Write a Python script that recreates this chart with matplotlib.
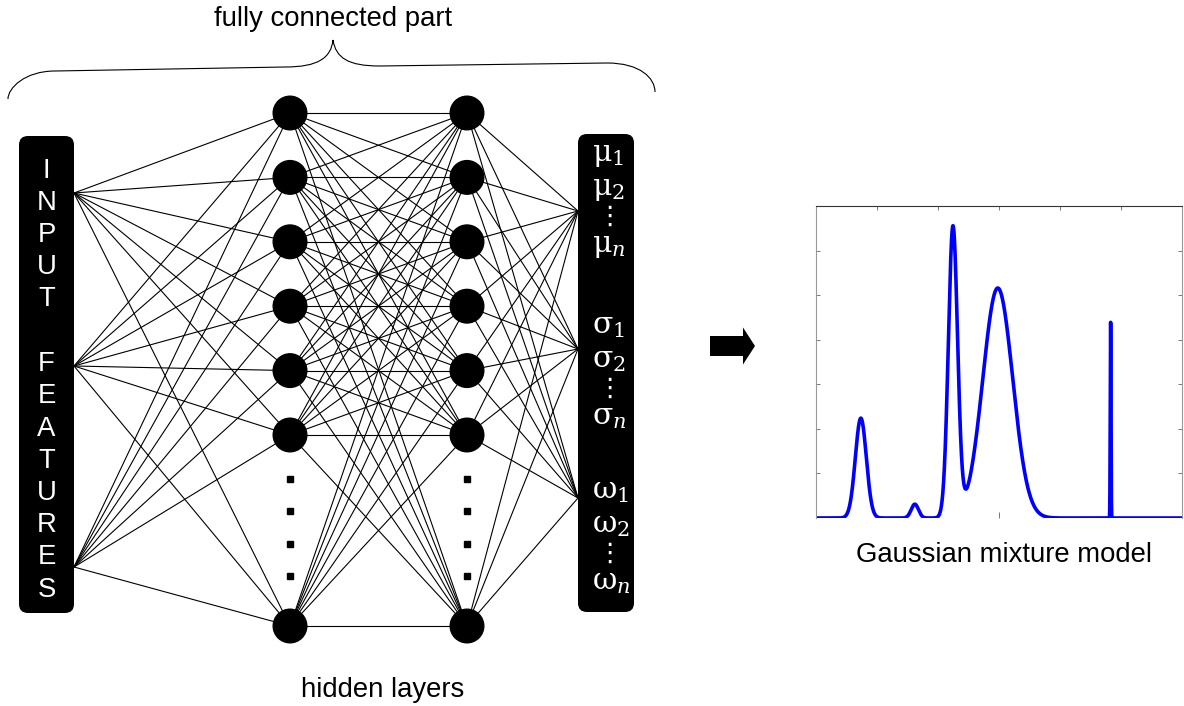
import numpy as np
import matplotlib
matplotlib.use("Agg")
import matplotlib.pyplot as plt
from matplotlib import patches
from matplotlib.path import Path
from matplotlib.collections import LineCollection

plt.rcParams["font.family"] = ["Liberation Sans", "DejaVu Sans"]
plt.rcParams["mathtext.fontset"] = "dejavuserif"

# --- texts ---
input_label = "INPUT FEATURES"
output_symbols = [r"\mu", r"\sigma", r"\omega"]
output_subs = ["1", "2", "n"]
top_label = "fully connected part"
bottom_label = "hidden layers"
gmm_label = "Gaussian mixture model"

# --- GMM components (x: 0..6, y: 0..7) ---
gmm_means = [0.735, 1.62, 2.245, 2.98, 4.83]
gmm_sigmas = [0.09, 0.06, 0.075, 0.245, 0.006]
gmm_peaks = [2.24, 0.31, 6.5, 5.16, 4.39]

# --- layout (pixels) ---
W, H = 1184, 706
FS = 19.8
in_box = (19, 136, 55, 477)
out_box = (578, 134, 56, 478)
in_ports = [193, 366, 567]
out_ports = [211, 349, 498]
layer_x = [290, 467]
node_r = 16.8
node_y = [113 + 64.4 * i for i in range(6)] + [626]
dots_y = [479 + 32.3 * k for k in range(4)]

fig = plt.figure(figsize=(W / 100, H / 100), dpi=100)
ax = fig.add_axes([0, 0, 1, 1])
ax.set_xlim(0, W)
ax.set_ylim(H, 0)
ax.axis("off")

# connections
segs = []
for py in in_ports:
    for ny in node_y:
        segs.append([(in_box[0] + in_box[2], py), (layer_x[0], ny)])
for y0 in node_y:
    for y1 in node_y:
        segs.append([(layer_x[0], y0), (layer_x[1], y1)])
for ny in node_y:
    for py in out_ports:
        segs.append([(layer_x[1], ny), (out_box[0], py)])
ax.add_collection(LineCollection(segs, colors="k", linewidths=0.8, zorder=1))

# nodes and ellipsis dots
for lx in layer_x:
    for ny in node_y:
        ax.add_patch(patches.Circle((lx, ny), node_r, color="k", zorder=3))
    ax.plot([lx] * len(dots_y), dots_y, "s", color="k", ms=5, zorder=3)

# input / output boxes
for bx, by, bw, bh in (in_box, out_box):
    ax.add_patch(patches.FancyBboxPatch((bx, by), bw, bh,
                                        boxstyle="round,pad=0,rounding_size=9",
                                        fc="k", ec="none", zorder=2))

cx = in_box[0] + in_box[2] / 2
for i, ch in enumerate(input_label):
    if ch != " ":
        ax.text(cx, 177.5 + 32.25 * i, ch, color="w", ha="center",
                va="baseline", fontsize=FS, zorder=4)

group_base = [161, 333, 498]
row_off = [0, 34, 91]
for sym, base in zip(output_symbols, group_base):
    for sub, off in zip(output_subs, row_off):
        ax.text(592, base + off, rf"$\mathrm{{{sym}}}_{{{sub}}}$", color="w",
                ha="left", va="baseline", fontsize=21.5, zorder=4)
    ax.text(609, base + 56, "\u22ee", color="w", ha="center", va="center",
            fontsize=19, family="DejaVu Sans", zorder=4)

# brace over the fully connected part
verts = [(8, 99), (8, 88), (25, 71), (55, 71),
         (285, 67),
         (318, 67), (331, 58), (333, 40),
         (336, 58), (348, 66), (380, 66),
         (607, 63),
         (640, 63), (655, 78), (655, 92)]
codes = [Path.MOVETO, Path.CURVE4, Path.CURVE4, Path.CURVE4,
         Path.LINETO,
         Path.CURVE4, Path.CURVE4, Path.CURVE4,
         Path.CURVE4, Path.CURVE4, Path.CURVE4,
         Path.LINETO,
         Path.CURVE4, Path.CURVE4, Path.CURVE4]
ax.add_patch(patches.PathPatch(Path(verts, codes), fc="none", ec="k", lw=0.8))

ax.text(333, 26, top_label, ha="center", va="baseline", fontsize=FS)
ax.text(383, 697, bottom_label, ha="center", va="baseline", fontsize=FS)
ax.text(1003.5, 562, gmm_label, ha="center", va="baseline", fontsize=FS)

# arrow
ax.add_patch(patches.FancyArrow(710, 346, 45, 0, width=20, head_width=37,
                                head_length=12, length_includes_head=True,
                                fc="k", ec="none"))

# --- GMM plot ---
gx = fig.add_axes([816 / W, 1 - 518 / H, 366 / W, 312 / H])
xs = np.linspace(0, 6, 6001)
ys = np.zeros_like(xs)
for m, s, a in zip(gmm_means, gmm_sigmas, gmm_peaks):
    ys += a * np.exp(-0.5 * ((xs - m) / s) ** 2)
gx.plot(xs, ys, color="#0000ff", lw=2.6, solid_joinstyle="round")
gx.set_xlim(0, 6)
gx.set_ylim(0, 7)
gx.set_xticks([1, 2, 3, 4, 5])
gx.set_xticks([3], minor=True)
gx.xaxis.remove_overlapping_locs = False
gx.set_yticks([1, 2, 3, 4, 5, 6])
gx.tick_params(axis="x", which="major", direction="in", top=True, bottom=False,
               labelbottom=False, length=3, width=0.7, color="#777777")
gx.tick_params(axis="x", which="minor", direction="in", top=False, bottom=True,
               length=4, width=0.7, color="#777777")
gx.tick_params(axis="y", which="major", direction="in", left=True, right=True,
               labelleft=False, length=3, width=0.7, color="#777777")
gx.spines["bottom"].set_visible(False)
gx.spines["top"].set_color("#333333")
for side in ("left", "right"):
    gx.spines[side].set_color("#999999")
for sp in gx.spines.values():
    sp.set_linewidth(0.8)

fig.savefig("out.png", dpi=100)
